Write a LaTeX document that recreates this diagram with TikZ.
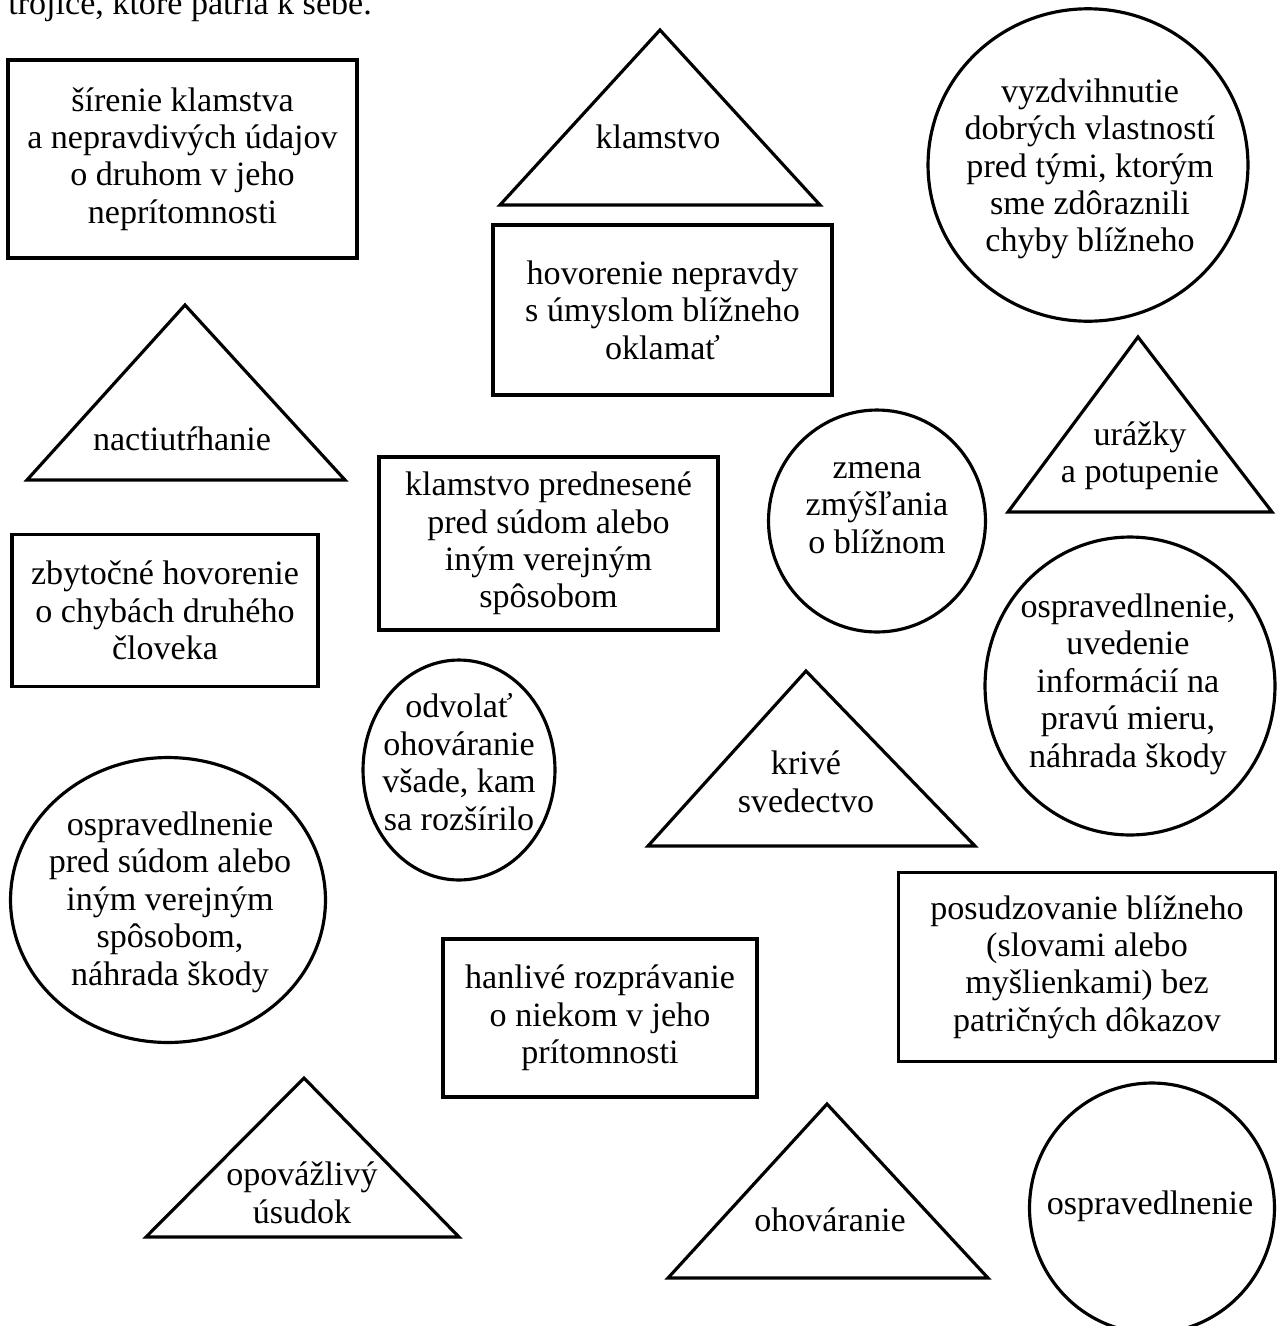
\documentclass[tikz,border=0pt]{standalone}
\usepackage{fontspec}
\setmainfont{Liberation Serif}
\usetikzlibrary{shapes.geometric}

\tikzset{
    obrys/.style={line width=1.8pt},
    box/.style={obrys, draw, rectangle, inner sep=0pt},
    kruh/.style={obrys, draw, ellipse, inner sep=0pt},
    napis/.style={align=center, inner sep=0pt, font=\fontsize{19.4}{21.3}\selectfont},
}

\begin{document}
\begin{tikzpicture}[x=0.02cm, y=-0.02cm]
    \useasboundingbox (0,0) rectangle (1276,1326);

    \node[napis, anchor=base west] (zadanie) at (8,14) {trojice, ktoré patria k sebe.};

    % obdlzniky
    \node[box, napis, minimum width=6.98cm, minimum height=3.96cm] (sirenie) at (182.5,159)
        {šírenie klamstva\\a nepravdivých údajov\\o druhom v jeho\\neprítomnosti};
    \node[box, napis, minimum width=6.78cm, minimum height=3.4cm] (hovorenie) at (662.5,310)
        {hovorenie nepravdy\\s úmyslom blížneho\\oklamať};
    \node[box, napis, minimum width=6.78cm, minimum height=3.46cm] (prednesene) at (548.5,543.5)
        {klamstvo prednesené\\pred súdom alebo\\iným verejným\\spôsobom};
    \node[box, napis, minimum width=6.12cm, minimum height=3.04cm] (zbytocne) at (165,610.5)
        {zbytočné hovorenie\\o chybách druhého\\človeka};
    \node[box, napis, minimum width=6.28cm, minimum height=3.16cm] (hanlive) at (600,1018)
        {hanlivé rozprávanie\\o niekom v jeho\\prítomnosti};
    \node[box, napis, minimum width=7.54cm, minimum height=3.78cm] (posudzovanie) at (1087,967)
        {posudzovanie blížneho\\(slovami alebo\\myšlienkami) bez\\patričných dôkazov};

    % kruhy
    \node[kruh, minimum width=6.4cm, minimum height=6.25cm] (vyzdvihnutie) at (1088,165) {};
    \node[napis] (vyzdvihnutie-t) at (1090,169)
        {vyzdvihnutie\\dobrých vlastností\\pred tými, ktorým\\sme zdôraznili\\chyby blížneho};
    \node[kruh, minimum width=4.34cm, minimum height=4.44cm] (zmena) at (877,521) {};
    \node[napis] (zmena-t) at (877,508) {zmena\\zmýšľania\\o blížnom};
    \node[kruh, minimum width=5.8cm, minimum height=5.96cm] (uvedenie) at (1130,686) {};
    \node[napis] (uvedenie-t) at (1128,684)
        {ospravedlnenie,\\uvedenie\\informácií na\\pravú mieru,\\náhrada škody};
    \node[kruh, minimum width=3.84cm, minimum height=4.4cm] (odvolat) at (459,770) {};
    \node[napis] (odvolat-t) at (459,762) {odvolať\\ohováranie\\všade, kam\\sa rozšírilo};
    \node[kruh, minimum width=6.3cm, minimum height=5.7cm] (pred-sudom) at (168,900) {};
    \node[napis] (pred-sudom-t) at (170,902)
        {ospravedlnenie\\pred súdom alebo\\iným verejným\\spôsobom,\\náhrada škody};
    \node[kruh, minimum width=4.9cm, minimum height=5cm] (ospravedlnenie) at (1152,1208) {};
    \node[napis] (ospravedlnenie-t) at (1150,1206) {ospravedlnenie};

    % trojuholniky
    \draw[obrys] (500,205) -- (660,30) -- (820,205) -- cycle;
    \node[napis] (klamstvo) at (658,137) {klamstvo};

    \draw[obrys] (27,480) -- (185,305) -- (345,480) -- cycle;
    \node[napis] (nactiutrhanie) at (182,439) {nactiutŕhanie};

    \draw[obrys] (1008,512) -- (1138,337) -- (1272,512) -- cycle;
    \node[napis] (urazky) at (1140,456) {urážky\\a potupenie};

    \draw[obrys] (648,846) -- (806,671) -- (975,846) -- cycle;
    \node[napis] (krive) at (806,782) {krivé\\svedectvo};

    \draw[obrys] (146,1237) -- (304,1078) -- (459,1237) -- cycle;
    \node[napis] (opovazlivy) at (302,1193) {opovážlivý\\úsudok};

    \draw[obrys] (668,1278) -- (827,1104) -- (988,1278) -- cycle;
    \node[napis] (ohovaranie) at (830,1220) {ohováranie};
\end{tikzpicture}
\end{document}
